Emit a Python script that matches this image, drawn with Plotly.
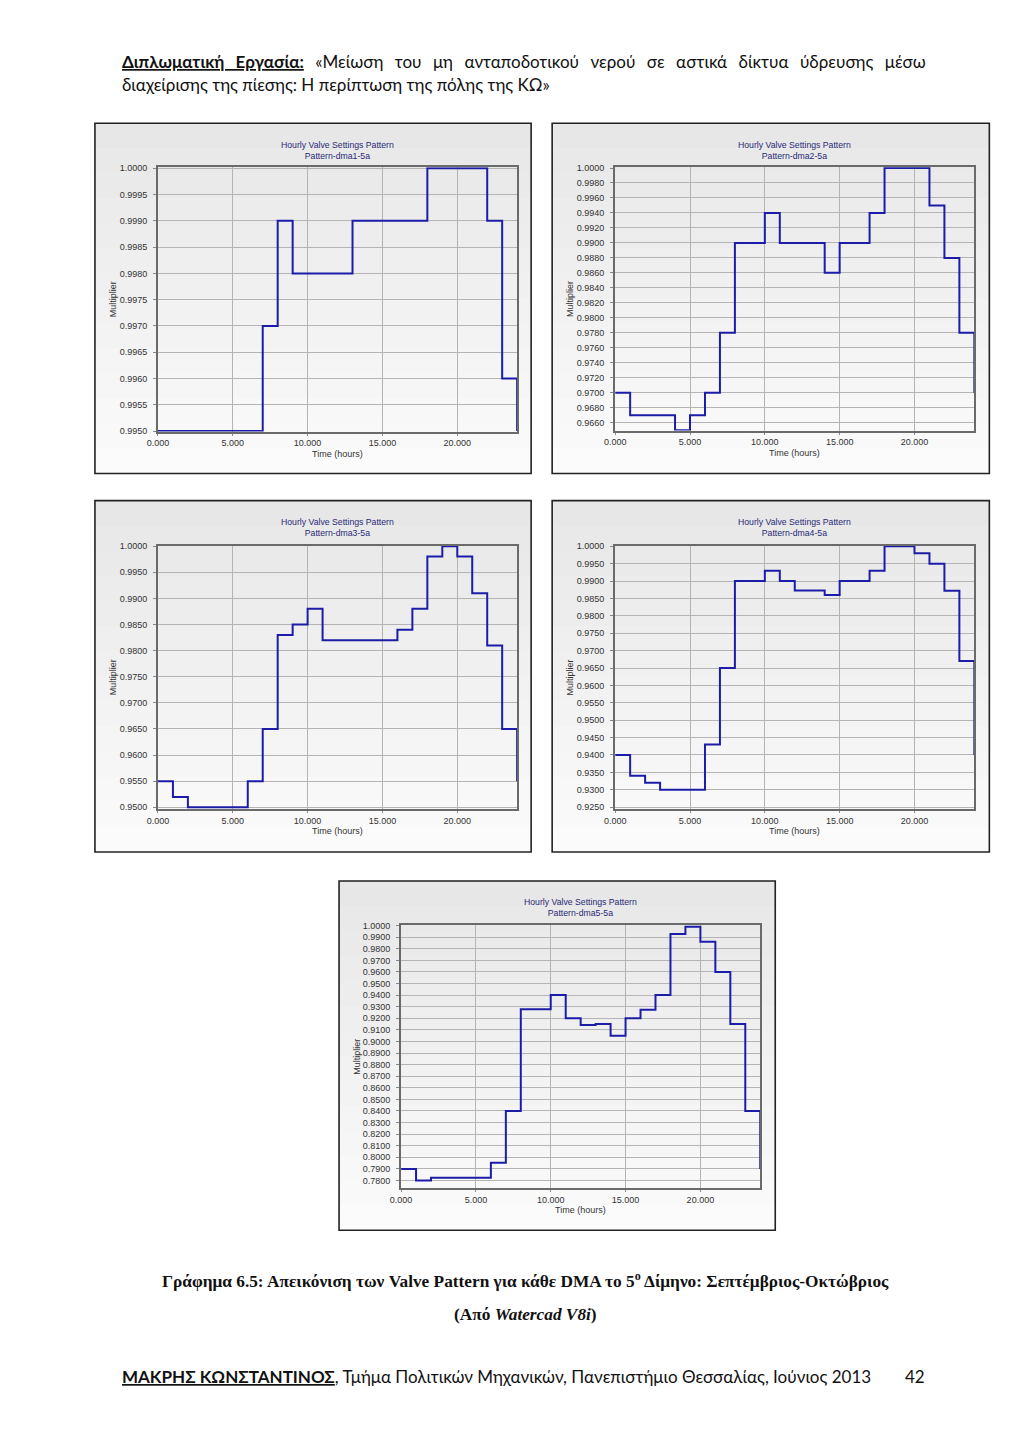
import plotly.graph_objects as go

W, H = 1024, 1447

hours = list(range(25))

dma1 = [0.9950, 0.9950, 0.9950, 0.9950, 0.9950, 0.9950, 0.9950, 0.9970, 0.9990, 0.9980,
        0.9980, 0.9980, 0.9980, 0.9990, 0.9990, 0.9990, 0.9990, 0.9990, 1.0000, 1.0000,
        1.0000, 1.0000, 0.9990, 0.9960, 0.9950]
dma2 = [0.9700, 0.9670, 0.9670, 0.9670, 0.9650, 0.9670, 0.9700, 0.9780, 0.9900, 0.9900,
        0.9940, 0.9900, 0.9900, 0.9900, 0.9860, 0.9900, 0.9900, 0.9940, 1.0000, 1.0000,
        1.0000, 0.9950, 0.9880, 0.9780, 0.9700]
dma3 = [0.9550, 0.9520, 0.9500, 0.9500, 0.9500, 0.9500, 0.9550, 0.9650, 0.9830, 0.9850,
        0.9880, 0.9820, 0.9820, 0.9820, 0.9820, 0.9820, 0.9840, 0.9880, 0.9980, 1.0000,
        0.9980, 0.9910, 0.9810, 0.9650, 0.9550]
dma4 = [0.9400, 0.9340, 0.9320, 0.9300, 0.9300, 0.9300, 0.9430, 0.9650, 0.9900, 0.9900,
        0.9930, 0.9900, 0.9873, 0.9873, 0.9860, 0.9900, 0.9900, 0.9930, 1.0000, 1.0000,
        0.9980, 0.9950, 0.9872, 0.9670, 0.9400]
dma5 = [0.7900, 0.7800, 0.7823, 0.7823, 0.7823, 0.7823, 0.7953, 0.8400, 0.9277, 0.9277,
        0.9400, 0.9200, 0.9143, 0.9150, 0.9050, 0.9200, 0.9273, 0.9400, 0.9928, 0.9989,
        0.9860, 0.9600, 0.9150, 0.8400, 0.7900]

series = [dma1, dma2, dma3, dma4, dma5]
pattern_names = ["Pattern-dma1-5a", "Pattern-dma2-5a", "Pattern-dma3-5a",
                 "Pattern-dma4-5a", "Pattern-dma5-5a"]
chart_title = "Hourly Valve Settings Pattern"
x_ticks = [0, 5, 10, 15, 20]
y_ticks = [
    [0.9950 + 0.0005 * i for i in range(11)],
    [0.9660 + 0.0020 * i for i in range(18)],
    [0.9500 + 0.0050 * i for i in range(11)],
    [0.9250 + 0.0050 * i for i in range(16)],
    [0.7800 + 0.0100 * i for i in range(23)],
]
y_ranges = [[0.99499, 1.00002], [0.96495, 1.0001], [0.9497, 1.0001], [0.9245, 1.0002], [0.7733, 1.0005]]

# frame boxes (x0, y0, x1, y1) in page pixels, and plot area inside each
frames = [(95, 123, 531, 473), (552, 123, 989, 473), (95, 500, 531, 851),
          (552, 500, 989, 851), (339, 880, 775, 1229)]
plots = [(158, 167, 517, 431), (615, 167, 974, 430), (158, 545, 517, 808),
         (615, 545, 974, 808), (401, 924, 760, 1187)]

# empirical correction of the rendered placement
SX, OX = 0.9888, 11.1
SY, OY = 0.9928, 3.9


def fx(px):
    return ((px - OX) / SX) / W


def fy(py):
    return 1 - ((py - OY) / SY) / H


def lerp_color(c0, c1, t):
    return "rgb(%d,%d,%d)" % tuple(round(a + (b - a) * t) for a, b in zip(c0, c1))


fig = go.Figure()
shapes = []
annotations = []
FONT = "Liberation Sans"
NB = 14

for i, (ys, name) in enumerate(zip(series, pattern_names)):
    n = "" if i == 0 else str(i + 1)
    fx0, fy0, fx1, fy1 = frames[i]
    px0, py0, px1, py1 = plots[i]
    fig.add_trace(go.Scatter(
        x=hours, y=ys, mode="lines", line=dict(color="#1c1ca8", width=2, shape="hv"),
        xaxis="x" + n, yaxis="y" + n, showlegend=False, hoverinfo="x+y"))
    fig.layout["xaxis" + n] = dict(
        domain=[fx(px0), fx(px1)], anchor="y" + n, range=[0, 24],
        tickvals=x_ticks, ticktext=["%.3f" % v for v in x_ticks],
        showgrid=True, gridcolor="#b4b4b4", gridwidth=1.3,
        showline=True, linecolor="#6a6a6a", linewidth=2, mirror=True,
        ticks="outside", ticklen=2, tickcolor="#888",
        tickfont=dict(family=FONT, size=9, color="#333"), zeroline=False)
    fig.layout["yaxis" + n] = dict(
        domain=[fy(py1), fy(py0)], anchor="x" + n, range=y_ranges[i],
        tickvals=y_ticks[i], ticktext=["%.4f" % v for v in y_ticks[i]],
        showgrid=True, gridcolor="#b4b4b4", gridwidth=1.3,
        showline=True, linecolor="#6a6a6a", linewidth=2, mirror=True,
        ticks="outside", ticklen=3, tickcolor="#888", ticklabelstandoff=4,
        tickfont=dict(family=FONT, size=9, color="#333"), zeroline=False)
    # vertical gradient background of the frame
    for b in range(NB):
        ya = fy0 + (fy1 - fy0) * b / NB
        yb = fy0 + (fy1 - fy0) * (b + 1) / NB
        shapes.append(dict(type="rect", xref="paper", yref="paper", layer="below",
                           x0=fx(fx0), x1=fx(fx1), y0=fy(yb) - 0.0004, y1=fy(ya),
                           fillcolor=lerp_color((231, 231, 231), (251, 251, 251), b / (NB - 1)),
                           line=dict(width=0)))
    shapes.append(dict(type="rect", xref="paper", yref="paper", layer="below",
                       x0=fx(fx0), x1=fx(fx1), y0=fy(fy1), y1=fy(fy0),
                       fillcolor="rgba(0,0,0,0)", line=dict(color="#222", width=1.6)))
    cx = (px0 + px1) / 2
    annotations.append(dict(xref="paper", yref="paper", x=fx(cx), y=fy(fy0 + 27),
                            text=chart_title + "<br>" + name, showarrow=False,
                            xanchor="center", yanchor="middle",
                            font=dict(family=FONT, size=8.7, color="#2a2a78")))
    annotations.append(dict(xref="paper", yref="paper", x=fx(cx), y=fy(py1 + 22),
                            text="Time (hours)", showarrow=False, xanchor="center",
                            yanchor="middle", font=dict(family=FONT, size=9, color="#333")))
    annotations.append(dict(xref="paper", yref="paper", x=fx(fx0 + 18), y=fy((py0 + py1) / 2),
                            text="Multiplier", showarrow=False, textangle=-90,
                            xanchor="center", yanchor="middle",
                            font=dict(family=FONT, size=9, color="#333")))

# page texts
SANS = "Lato"
annotations.append(dict(xref="paper", yref="paper", x=fx(120), y=fy(61.5),
                        text="<span style=\"word-spacing:7.1px\"><b><u>Διπλωματική Εργασία:</u></b> «Μείωση του μη ανταποδοτικού νερού σε αστικά δίκτυα ύδρευσης μέσω</span>",
                        showarrow=False, xanchor="left", yanchor="middle",
                        font=dict(family=SANS, size=17, color="#111")))
annotations.append(dict(xref="paper", yref="paper", x=fx(120), y=fy(84.3),
                        text="διαχείρισης της πίεσης: Η περίπτωση της πόλης της ΚΩ»",
                        showarrow=False, xanchor="left", yanchor="middle",
                        font=dict(family=SANS, size=17, color="#111")))
annotations.append(dict(xref="paper", yref="paper", x=fx(525), y=fy(1278.7),
                        text="<b>Γράφημα 6.5: Απεικόνιση των Valve Pattern για κάθε DMA το 5<sup>ο</sup> Δίμηνο: Σεπτέμβριος-Οκτώβριος</b>",
                        showarrow=False, xanchor="center", yanchor="middle",
                        font=dict(family="Liberation Serif", size=17.3, color="#111")))
annotations.append(dict(xref="paper", yref="paper", x=fx(525), y=fy(1313.5),
                        text="<b>(Από <i>Watercad V8i</i>)</b>",
                        showarrow=False, xanchor="center", yanchor="middle",
                        font=dict(family="Liberation Serif", size=17.3, color="#111")))
annotations.append(dict(xref="paper", yref="paper", x=fx(120), y=fy(1375),
                        text="<b><u>ΜΑΚΡΗΣ ΚΩΝΣΤΑΝΤΙΝΟΣ</u></b>, Τμήμα Πολιτικών Μηχανικών, Πανεπιστήμιο Θεσσαλίας, Ιούνιος 2013",
                        showarrow=False, xanchor="left", yanchor="middle",
                        font=dict(family=SANS, size=17, color="#111")))
annotations.append(dict(xref="paper", yref="paper", x=fx(927), y=fy(1375),
                        text="42", showarrow=False, xanchor="right", yanchor="middle",
                        font=dict(family=SANS, size=17, color="#111")))

fig.update_layout(width=W, height=H, margin=dict(l=0, r=0, t=0, b=0),
                  paper_bgcolor="white", plot_bgcolor="white",
                  shapes=shapes, annotations=annotations, showlegend=False)

fig.write_html("out.html")
